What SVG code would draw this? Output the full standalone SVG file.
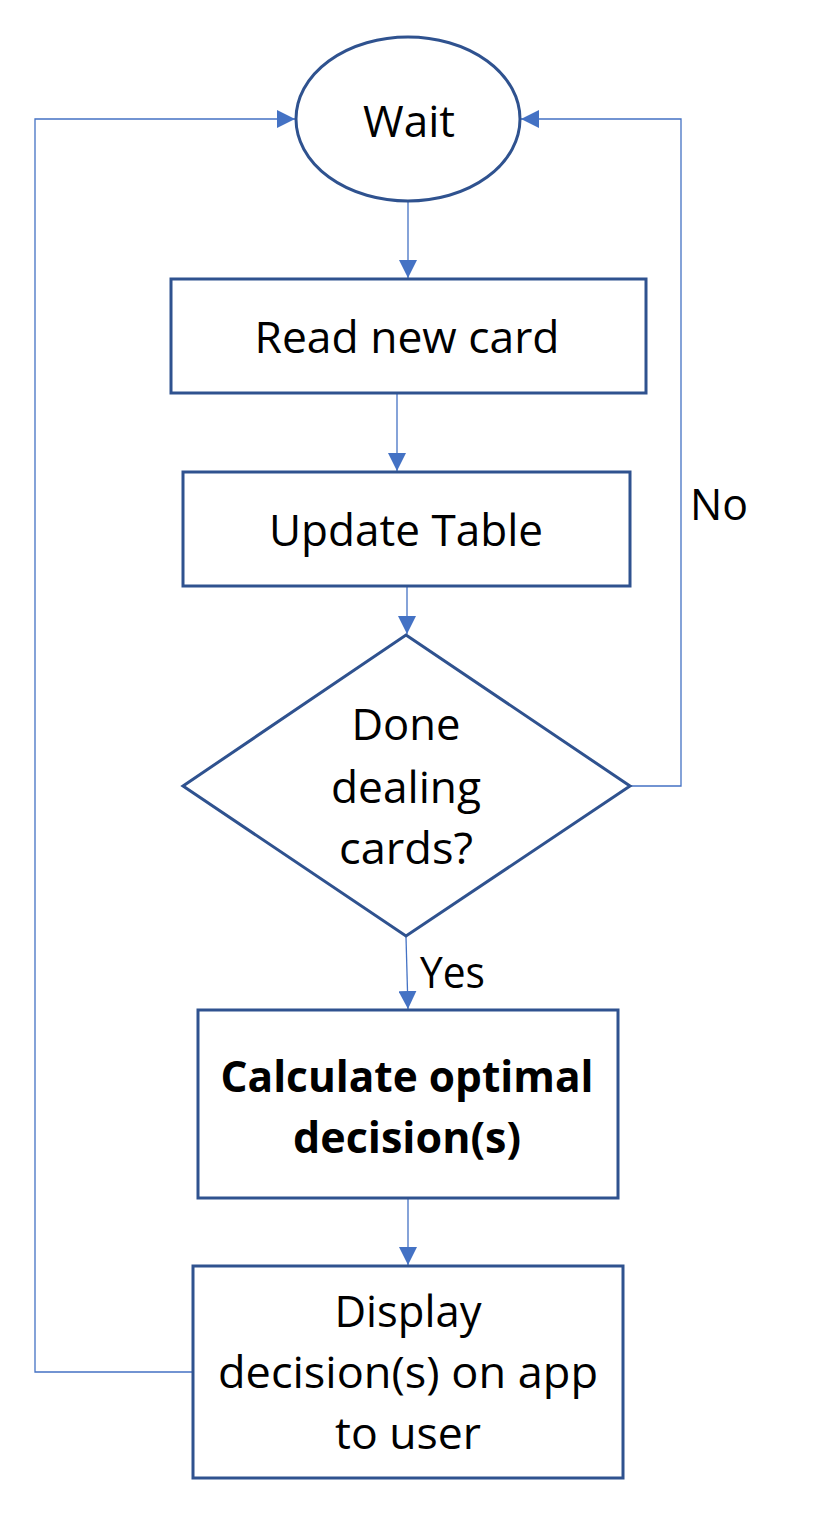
<svg xmlns="http://www.w3.org/2000/svg" width="820" height="1513" viewBox="0 0 820 1513">
<defs>
<marker id="ah" markerUnits="userSpaceOnUse" markerWidth="18" markerHeight="18" viewBox="0 0 16 16" refX="16" refY="8" orient="auto">
<path d="M0,0 L16,8 L0,16 Z" fill="#4472C4"/>
</marker>
<style>
.node{fill:#fff;stroke:#2F528F;stroke-width:3}
.conn{fill:none;stroke:#4472C4;stroke-width:1.3}
.t{font-family:"Open Sans","Liberation Sans",sans-serif;font-size:43px;fill:#000;text-anchor:middle}
.b{font-weight:bold}
.lbl{font-family:"Open Sans","Liberation Sans",sans-serif;font-size:43px;fill:#000}
</style>
</defs>
<rect width="820" height="1513" fill="#fff"/>
<g id="connectors">
<path class="conn" d="M408,202 L408,278" marker-end="url(#ah)"/>
<path class="conn" d="M397,394 L397,471" marker-end="url(#ah)"/>
<path class="conn" d="M407,587 L407,634" marker-end="url(#ah)"/>
<path class="conn" d="M406,937 L408,1009" marker-end="url(#ah)"/>
<path class="conn" d="M408,1199 L408,1265" marker-end="url(#ah)"/>
<path class="conn" d="M631,786 L681,786 L681,119 L521,119" marker-end="url(#ah)"/>
<path class="conn" d="M192,1372 L35,1372 L35,119 L295,119" marker-end="url(#ah)"/>
<text class="lbl" x="690" y="520" textLength="58" lengthAdjust="spacingAndGlyphs">No</text>
<text class="lbl" x="420" y="988" textLength="65" lengthAdjust="spacingAndGlyphs">Yes</text>
</g>
<g id="wait">
<ellipse class="node" cx="408" cy="119" rx="112" ry="82"/>
<text class="t" x="409" y="137" textLength="92" lengthAdjust="spacingAndGlyphs">Wait</text>
</g>
<g id="read">
<rect class="node" x="171" y="279" width="475" height="114"/>
<text class="t" x="407" y="353" textLength="305" lengthAdjust="spacingAndGlyphs">Read new card</text>
</g>
<g id="update">
<rect class="node" x="183" y="472" width="447" height="114"/>
<text class="t" x="406" y="546" textLength="274" lengthAdjust="spacingAndGlyphs">Update Table</text>
</g>
<g id="decision">
<polygon class="node" points="406,635 630,786 406,936 183,786"/>
<text class="t" x="406" y="740" textLength="109" lengthAdjust="spacingAndGlyphs">Done</text>
<text class="t" x="406" y="803" textLength="150" lengthAdjust="spacingAndGlyphs">dealing</text>
<text class="t" x="406" y="864" textLength="134" lengthAdjust="spacingAndGlyphs">cards?</text>
</g>
<g id="calculate">
<rect class="node" x="198" y="1010" width="420" height="188"/>
<text class="t b" x="407" y="1092" textLength="373" lengthAdjust="spacingAndGlyphs">Calculate optimal</text>
<text class="t b" x="407" y="1153" textLength="228" lengthAdjust="spacingAndGlyphs">decision(s)</text>
</g>
<g id="display">
<rect class="node" x="193" y="1266" width="430" height="212"/>
<text class="t" x="408" y="1327" textLength="147" lengthAdjust="spacingAndGlyphs">Display</text>
<text class="t" x="408" y="1388" textLength="380" lengthAdjust="spacingAndGlyphs">decision(s) on app</text>
<text class="t" x="408" y="1449" textLength="146" lengthAdjust="spacingAndGlyphs">to user</text>
</g>
</svg>
